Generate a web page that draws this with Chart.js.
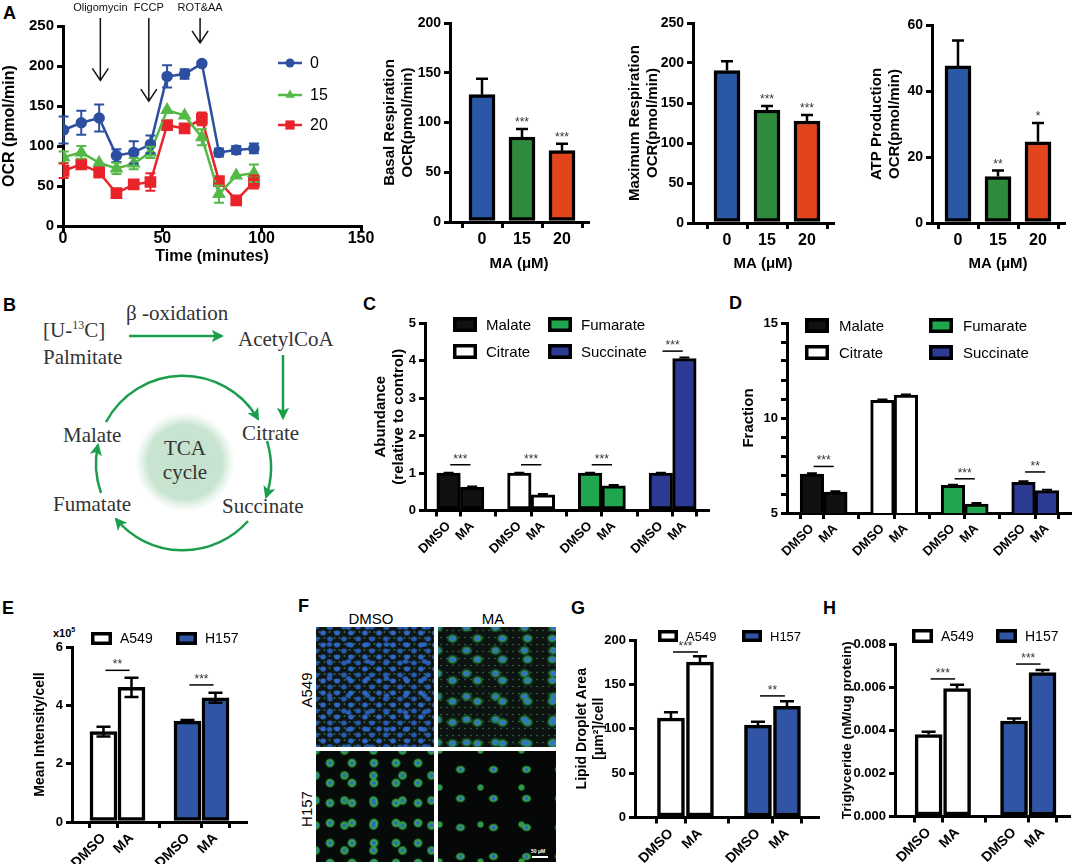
<!DOCTYPE html>
<html lang="en">
<head>
<meta charset="UTF-8">
<title>Mitochondrial respiration and lipid panels</title>
<script src="https://cdn.jsdelivr.net/npm/chart.js@4.4.1/dist/chart.umd.min.js"></script>
<style>
  html, body { margin: 0; padding: 0; background: #fff; }
  body { width: 1072px; height: 864px; position: relative; overflow: hidden;
         font-family: 'Liberation Sans', Arial, sans-serif; }
  canvas { position: absolute; }
  .tag { position: absolute; font-weight: bold; font-size: 18px; line-height: 1; }
  .lbl { position: absolute; font-size: 15px; line-height: 1; white-space: nowrap;
         transform: translate(-50%, -50%); }
  .rot { transform: translate(-50%, -50%) rotate(-90deg); }
  .cells { position: absolute; }
  #f1 { left: 316px; top: 627px; width: 118px; height: 120px; background-color: #0e1716;
        background-image:
          radial-gradient(3.8px 3.2px at 50% 50%, #2f68c8 50%, rgba(40,90,180,0) 100%),
          radial-gradient(3.8px 3.2px at 50% 50%, #295cb4 50%, rgba(40,90,180,0) 100%),
          radial-gradient(3.6px 3px at 50% 50%, #2a60bc 50%, rgba(40,90,180,0) 100%),
          radial-gradient(1.3px 1.3px at 50% 50%, rgba(80,170,110,.55) 50%, rgba(0,0,0,0) 100%);
        background-size: 14px 12px, 14px 12px, 19px 17px, 5px 6px;
        background-position: 0 0, 7px 6px, 4px 9px, 1px 2px; }
  #f2 { left: 438px; top: 627px; width: 118px; height: 120px; background-color: #0c1310;
        background-image:
          radial-gradient(3.2px 2.8px at 50% 50%, #3570d0 60%, rgba(0,0,0,0) 100%),
          radial-gradient(3.2px 2.8px at 50% 50%, #3570d0 60%, rgba(0,0,0,0) 100%),
          radial-gradient(6.5px 5.5px at 50% 50%, #35a552 40%, rgba(30,120,60,.45) 75%, rgba(0,0,0,0) 100%),
          radial-gradient(6.5px 5.5px at 50% 50%, #2f984a 40%, rgba(30,120,60,.45) 75%, rgba(0,0,0,0) 100%),
          radial-gradient(1.2px 1.2px at 50% 50%, rgba(70,160,100,.5) 50%, rgba(0,0,0,0) 100%);
        background-size: 25px 21px, 29px 23px, 25px 21px, 29px 23px, 6px 7px;
        background-position: 2px 1px, 14px 12px, 2px 1px, 14px 12px, 0 0; }
  #f3 { left: 316px; top: 751px; width: 118px; height: 111px; background-color: #060a08;
        background-image:
          radial-gradient(2.4px 2.4px at 50% 50%, #3068c4 60%, rgba(0,0,0,0) 100%),
          radial-gradient(2.4px 2.4px at 50% 50%, #3068c4 60%, rgba(0,0,0,0) 100%),
          radial-gradient(5.2px 5.2px at 50% 50%, #37a84a 60%, rgba(0,0,0,0) 100%),
          radial-gradient(5.2px 5.2px at 50% 50%, #31a045 60%, rgba(0,0,0,0) 100%);
        background-size: 22px 20px, 29px 25px, 22px 20px, 29px 25px;
        background-position: 3px 2px, 14px 12px, 3px 2px, 14px 12px; }
  #f4 { left: 438px; top: 751px; width: 118px; height: 111px; background-color: #050807;
        background-image:
          radial-gradient(2.4px 2.4px at 50% 50%, #3068c4 60%, rgba(0,0,0,0) 100%),
          radial-gradient(5.5px 4.5px at 50% 50%, #37a84a 55%, rgba(0,0,0,0) 100%),
          radial-gradient(4px 4px at 50% 50%, #2f9a45 55%, rgba(0,0,0,0) 100%);
        background-size: 33px 29px, 33px 29px, 41px 37px;
        background-position: 6px 4px, 6px 4px, 22px 18px; }
  #scalebar { position: absolute; left: 532px; top: 856px; width: 16px; height: 2px; background: #fff; }
  #scaletext { position: absolute; left: 531px; top: 848px; font-size: 5px; color: #fff; font-weight: bold; }
  #x10 { position: absolute; left: 53px; top: 626px; font-size: 11px; font-weight: bold; }
  #x10 sup { font-size: 7px; }
</style>
</head>
<body>
<div class="tag" style="left:3px;top:4px">A</div>
<div class="tag" style="left:3px;top:296px">B</div>
<div class="tag" style="left:363px;top:295px">C</div>
<div class="tag" style="left:729px;top:294px">D</div>
<div class="tag" style="left:2px;top:599px">E</div>
<div class="tag" style="left:298px;top:597px">F</div>
<div class="tag" style="left:571px;top:599px">G</div>
<div class="tag" style="left:823px;top:599px">H</div>

<!-- B: labelling scheme -->
<svg width="360" height="300" viewBox="0 280 360 300" style="position:absolute;left:0;top:280px">
  <defs>
    <marker id="head" viewBox="0 0 12 12" refX="10" refY="6" markerWidth="5" markerHeight="5" orient="auto">
      <path d="M0,0 L12,6 L0,12 L3,6 Z" fill="#1b9e4b"/>
    </marker>
    <radialGradient id="glow">
      <stop offset="0" stop-color="#c3e1cc"/>
      <stop offset="0.75" stop-color="#c9e5d2"/>
      <stop offset="1" stop-color="#d7ecde" stop-opacity="0"/>
    </radialGradient>
  </defs>
  <circle cx="185" cy="462" r="50" fill="url(#glow)"/>
  <g fill="#333" font-family="'Liberation Serif','DejaVu Serif',serif" font-size="21">
    <text x="43" y="337">[U-<tspan font-size="12" dy="-8">13</tspan><tspan dy="8">C]</tspan></text>
    <text x="43" y="364">Palmitate</text>
    <text x="126" y="320">β -oxidation</text>
    <text x="238" y="346">AcetylCoA</text>
    <text x="242" y="440">Citrate</text>
    <text x="63" y="442">Malate</text>
    <text x="185" y="455" text-anchor="middle">TCA</text>
    <text x="185" y="479" text-anchor="middle">cycle</text>
    <text x="53" y="511">Fumatate</text>
    <text x="222" y="513">Succinate</text>
  </g>
  <g stroke="#1b9e4b" stroke-width="2.5" fill="none" marker-end="url(#head)">
    <path d="M129,336 L222,336"/>
    <path d="M283,355 L283,418"/>
    <path d="M106,422 A87,87 0 0 1 258,419"/>
    <path d="M267,441 A90,90 0 0 1 266,497"/>
    <path d="M248,521 A87,87 0 0 1 116,519"/>
    <path d="M101,493 A87,87 0 0 1 98,445"/>
  </g>
</svg>

<!-- F: imaging -->
<div class="lbl" style="left:371px;top:618px">DMSO</div>
<div class="lbl" style="left:493px;top:618px">MA</div>
<div class="lbl rot" style="left:306px;top:690px">A549</div>
<div class="lbl rot" style="left:306px;top:809px">H157</div>
<div class="cells" id="f1"></div>
<div class="cells" id="f2"></div>
<div class="cells" id="f3"></div>
<div class="cells" id="f4"></div>
<div id="scalebar"></div>
<div id="scaletext">50 μM</div>
<div id="x10">x10<sup>5</sup></div>

<script>
const FONT = "'Liberation Sans', Arial, Helvetica, sans-serif";
Chart.defaults.font.family = FONT;
Chart.defaults.color = '#000';
Chart.defaults.animation = false;
Chart.defaults.plugins.legend.display = false;
Chart.defaults.plugins.tooltip.enabled = false;

// ---------- data ----------
// A: OCR trace
const minutes = [0.3, 9.2, 18.2, 26.9, 35.6, 44, 52.4, 61.2, 69.9, 78.5, 87.2, 96.1];
const ocr0 = [120, 129, 135, 88, 92, 102, 187, 190, 203, 92, 95, 97];
const ocr0Err = [17, 15, 17, 8, 14, 11, 14, 6, 2, 5, 5, 6];
const ocr15 = [86, 92, 79, 72, 78, 92, 145, 138, 111, 40, 63, 66];
const ocr15Err = [7, 8, 0, 7, 7, 7, 0, 0, 10, 11, 0, 11];
const ocr20 = [69, 77, 67, 41, 52, 55, 126, 122, 134, 56, 32, 55];
const ocr20Err = [9, 5, 6, 3, 3, 11, 5, 3, 8, 3, 3, 8];
const doseLabels = ['0', '15', '20'];
const injections = ['Oligomycin', 'FCCP', 'ROT&AA'];
const injectionTimes = [18.8, 43.2, 69];

// A: summary bars
const basal = [128, 85.4, 71.7];
const basalErr = [16, 8, 7];
const basalStars = ['', '***', '***'];
const maxResp = [190.6, 141.3, 127.5];
const maxRespErr = [11.5, 5, 7.5];
const maxRespStars = ['', '***', '***'];
const atp = [47.6, 14.1, 24.6];
const atpErr = [7.7, 1.8, 5.7];
const atpStars = ['', '**', '*'];

// C, D: metabolites
const metabolites = ['Malate', 'Citrate', 'Fumarate', 'Succinate'];
const treatments = ['DMSO', 'MA'];
const abundanceDMSO = [1, 1, 1, 1];
const abundanceMA = [0.62, 0.42, 0.66, 4.05];
const abundanceDMSOErr = [0.01, 0.01, 0.01, 0.01];
const abundanceMAErr = [0.02, 0.02, 0.02, 0.03];
const abundanceSig = ['***', '***', '***', '***'];
const fractionDMSO = [7.05, 10.93, 6.45, 6.62];
const fractionMA = [6.1, 11.2, 5.47, 6.18];
const fractionDMSOErr = [0.04, 0.04, 0.04, 0.05];
const fractionMAErr = [0.04, 0.04, 0.06, 0.05];
const fractionSig = ['***', '', '***', '**'];

// E, G, H: cell lines
const cellLines = ['A549', 'H157'];
const intensityDMSO = [3.1, 3.46];
const intensityMA = [4.62, 4.26];
const intensityDMSOErr = [0.17, 0.04];
const intensityMAErr = [0.33, 0.17];
const intensitySig = ['**', '***'];
const dropletDMSO = [112, 104];
const dropletMA = [175, 125.4];
const dropletDMSOErr = [6.5, 4];
const dropletMAErr = [6.6, 5.6];
const dropletSig = ['***', '**'];
const tgDMSO = [0.0038, 0.00443];
const tgMA = [0.00593, 0.00668];
const tgDMSOErr = [0.00013, 0.00011];
const tgMAErr = [0.00018, 0.00011];
const tgSig = ['***', '***'];

// ---------- styles ----------
const doseColors = ['#2b57a7', '#2e8b3d', '#e2441c'];
const traceColors = ['#2c4fa0', '#55b947', '#e8242a'];
const metaboliteColors = ['#111111', '#ffffff', '#1fa64f', '#2d3a94'];
const cellColors = ['#ffffff', '#2f55a4'];

// ---------- plugins ----------
const errorBars = {
  id: 'errorBars',
  afterDatasetsDraw(chart, args, o) {
    const {ctx, scales} = chart;
    chart.data.datasets.forEach(ds => {
      if (!ds.errors) return;
      ds.data.forEach((d, j) => {
        const e = ds.errors[j];
        const x = scales.x.getPixelForValue(d.x);
        const yTop = scales.y.getPixelForValue(d.y + (e || 0));
        ctx.save();
        if (e) {
          const yBot = scales.y.getPixelForValue(o.both ? d.y - e : d.y);
          ctx.strokeStyle = o.color || ds.borderColor;
          ctx.lineWidth = o.width;
          ctx.beginPath();
          ctx.moveTo(x, yTop); ctx.lineTo(x, yBot);
          ctx.moveTo(x - o.cap / 2, yTop); ctx.lineTo(x + o.cap / 2, yTop);
          if (o.both) { ctx.moveTo(x - o.cap / 2, yBot); ctx.lineTo(x + o.cap / 2, yBot); }
          ctx.stroke();
        }
        if (ds.stars && ds.stars[j]) {
          ctx.fillStyle = '#333';
          ctx.font = '12px ' + FONT;
          ctx.textAlign = 'center';
          ctx.textBaseline = 'alphabetic';
          ctx.fillText(ds.stars[j], x, yTop - 3);
        }
        ctx.restore();
      });
    });
  }
};

const sigBars = {
  id: 'sigBars',
  afterDatasetsDraw(chart, args, o) {
    const {ctx, scales: {x, y}} = chart;
    o.items.forEach(it => {
      if (!it.text) return;
      const x0 = x.getPixelForValue(it.at - 0.43);
      const x1 = x.getPixelForValue(it.at + 0.43);
      const yy = y.getPixelForValue(it.y);
      ctx.save();
      ctx.strokeStyle = '#000';
      ctx.lineWidth = 1.5;
      ctx.beginPath(); ctx.moveTo(x0, yy); ctx.lineTo(x1, yy); ctx.stroke();
      ctx.fillStyle = '#333';
      ctx.font = '12px ' + FONT;
      ctx.textAlign = 'center';
      ctx.textBaseline = 'alphabetic';
      ctx.fillText(it.text, (x0 + x1) / 2, yy - 2);
      ctx.restore();
    });
  }
};

const boxLegend = {
  id: 'boxLegend',
  afterDraw(chart, args, o) {
    const ctx = chart.ctx;
    chart.data.datasets.forEach((ds, i) => {
      const bx = o.spots[i][0] - o.origin[0], by = o.spots[i][1] - o.origin[1];
      ctx.save();
      ctx.fillStyle = ds.backgroundColor;
      ctx.fillRect(bx, by, o.w, o.h);
      ctx.strokeStyle = '#000';
      ctx.lineWidth = o.lw;
      ctx.strokeRect(bx + o.lw / 2, by + o.lw / 2, o.w - o.lw, o.h - o.lw);
      ctx.fillStyle = '#000';
      ctx.font = o.size + 'px ' + FONT;
      ctx.textAlign = 'left';
      ctx.textBaseline = 'middle';
      ctx.fillText(ds.label, bx + o.w + o.gap, by + o.h / 2 + 1);
      ctx.restore();
    });
  }
};

function marker(ctx, style, r, x, y) {
  ctx.beginPath();
  if (style === 'triangle') {
    ctx.moveTo(x, y - r); ctx.lineTo(x + r * 0.87, y + r / 2); ctx.lineTo(x - r * 0.87, y + r / 2); ctx.closePath();
  } else if (style === 'rect') {
    const s = r / Math.SQRT2;
    ctx.rect(x - s, y - s, 2 * s, 2 * s);
  } else {
    ctx.arc(x, y, r, 0, Math.PI * 2);
  }
  ctx.fill();
}

const lineLegend = {
  id: 'lineLegend',
  afterDraw(chart, args, o) {
    const ctx = chart.ctx;
    chart.data.datasets.forEach((ds, i) => {
      const y = o.rows[i];
      ctx.save();
      ctx.strokeStyle = ds.borderColor;
      ctx.fillStyle = ds.borderColor;
      ctx.lineWidth = 2.5;
      ctx.beginPath(); ctx.moveTo(o.x0, y); ctx.lineTo(o.x1, y); ctx.stroke();
      marker(ctx, ds.pointStyle, ds.pointRadius, (o.x0 + o.x1) / 2, y);
      ctx.fillStyle = '#000';
      ctx.font = o.size + 'px ' + FONT;
      ctx.textAlign = 'left';
      ctx.textBaseline = 'middle';
      ctx.fillText(ds.label, o.textX, y + 1);
      ctx.restore();
    });
  }
};

const injectionArrows = {
  id: 'injectionArrows',
  afterDraw(chart, args, o) {
    const {ctx, scales: {x, y}} = chart;
    injections.forEach((name, i) => {
      const px = x.getPixelForValue(injectionTimes[i]);
      const tip = y.getPixelForValue(o.tips[i]);
      ctx.save();
      ctx.strokeStyle = '#111';
      ctx.lineWidth = 1.5;
      ctx.beginPath();
      ctx.moveTo(px, o.top); ctx.lineTo(px, tip);
      ctx.moveTo(px - 8, tip - 12); ctx.lineTo(px, tip); ctx.lineTo(px + 8, tip - 12);
      ctx.stroke();
      ctx.fillStyle = '#111';
      ctx.font = '11px ' + FONT;
      ctx.textAlign = 'center';
      ctx.textBaseline = 'alphabetic';
      ctx.fillText(name, px, o.textY);
      ctx.restore();
    });
  }
};

// ---------- helpers ----------
function makeCanvas(box) {
  const c = document.createElement('canvas');
  c.width = box[2];
  c.height = box[3];
  c.style.left = box[0] + 'px';
  c.style.top = box[1] + 'px';
  document.body.appendChild(c);
  return c;
}
const grid = () => ({drawOnChartArea: false, color: '#000', lineWidth: 3, tickLength: 6});
const border = () => ({color: '#000', width: 3});
const axTitle = (text, size) => ({display: true, text, color: '#000', font: {size, weight: 'bold'}, padding: 0});

function barChart(c) {
  const yTicks = {stepSize: c.yStep, padding: 3, font: {size: c.ySize, weight: 'bold'}};
  if (c.yCb) yTicks.callback = c.yCb;
  return new Chart(makeCanvas(c.box), {
    type: 'bar',
    data: {datasets: c.datasets},
    options: {
      responsive: false,
      layout: {padding: c.pad},
      scales: {
        x: {
          type: 'linear', min: c.xMin, max: c.xMax, offset: false,
          afterBuildTicks: s => { s.ticks = c.positions.map(v => ({value: v})); },
          afterFit: s => { s.height = c.xh; },
          ticks: {autoSkip: false, minRotation: c.rot, maxRotation: c.rot, padding: 2,
                  font: {size: c.xSize, weight: 'bold'}, callback: (v, i) => c.tickLabels[i]},
          grid: grid(), border: border(),
          title: c.xTitle ? axTitle(c.xTitle, 15) : {display: false}
        },
        y: {
          min: c.yMin || 0, max: c.yMax,
          afterFit: s => { s.width = c.yw; },
          ticks: yTicks,
          grid: grid(), border: border(),
          title: axTitle(c.yTitle, c.yTitleSize)
        }
      },
      plugins: c.plug
    },
    plugins: c.plugins
  });
}

const barShape = thick => ({borderColor: '#000', borderSkipped: false, grouped: false,
                            barPercentage: 1, categoryPercentage: 1, maxBarThickness: thick});

function doseSet(values, errs, stars) {
  return [Object.assign({
    label: 'MA (μM)',
    data: values.map((v, i) => ({x: i, y: v})),
    errors: errs, stars,
    backgroundColor: doseColors, borderWidth: 3.5
  }, barShape(26))];
}

function pairSets(names, dmso, ma, errD, errM, colors, thick, bw) {
  return names.map((name, g) => Object.assign({
    label: name,
    data: [dmso[g], ma[g]].map((v, c) => ({x: g * 3 + c, y: v})),
    errors: [errD[g], errM[g]],
    backgroundColor: colors[g], borderWidth: bw
  }, barShape(thick)));
}
const pairPositions = n => Array.from({length: n * 2}, (_, k) => Math.floor(k / 2) * 3 + (k % 2));
const pairLabels = n => Array.from({length: n * 2}, (_, k) => treatments[k % 2]);
const sigItems = (sig, levels) => sig.map((t, g) => ({at: g * 3 + 0.5, y: levels[g], text: t}));

// ---------- A: OCR trace ----------
function traceSet(label, vals, errs, color, style, r) {
  return {
    label, data: minutes.map((t, i) => ({x: t, y: vals[i]})), errors: errs,
    borderColor: color, backgroundColor: color, pointBackgroundColor: color, pointBorderColor: color,
    pointStyle: style, pointRadius: r, borderWidth: 2.5, tension: 0
  };
}
new Chart(makeCanvas([0, 0, 385, 266]), {
  type: 'line',
  data: {datasets: [
    traceSet(doseLabels[0], ocr0, ocr0Err, traceColors[0], 'circle', 4.5),
    traceSet(doseLabels[1], ocr15, ocr15Err, traceColors[1], 'triangle', 5.5),
    traceSet(doseLabels[2], ocr20, ocr20Err, traceColors[2], 'rect', 6.5)
  ]},
  options: {
    responsive: false,
    layout: {padding: {left: 0, top: 26, right: 24, bottom: 0}},
    scales: {
      x: {type: 'linear', min: 0, max: 150, afterFit: s => { s.height = 40; },
          ticks: {stepSize: 50, padding: -3, font: {size: 16, weight: 'bold'}},
          grid: grid(), border: border(), title: axTitle('Time (minutes)', 16)},
      y: {min: 0, max: 250, afterFit: s => { s.width = 63; },
          ticks: {stepSize: 50, padding: 3, font: {size: 15, weight: 'bold'}},
          grid: grid(), border: border(), title: axTitle('OCR (pmol/min)', 16)}
    },
    plugins: {
      errorBars: {both: true, cap: 10, width: 2},
      lineLegend: {x0: 278, x1: 302, textX: 310, rows: [63, 95, 125], size: 16},
      injectionArrows: {top: 18, textY: 11, tips: [182, 156, 229]}
    }
  },
  plugins: [errorBars, lineLegend, injectionArrows]
});

// ---------- A: summary bars ----------
const doseBarBase = {positions: [0, 1, 2], tickLabels: doseLabels, rot: 0, xSize: 16, ySize: 14,
                     xTitle: 'MA (μM)', yTitleSize: 15,
                     plug: {errorBars: {both: false, cap: 12, width: 2.5, color: '#000'}}, plugins: [errorBars]};
barChart(Object.assign({}, doseBarBase, {
  box: [375, 8, 225, 267], pad: {left: 6, top: 15, right: 12, bottom: 2}, yw: 69, xh: 51,
  xMin: -0.8, xMax: 2.65, yMax: 200, yStep: 50,
  yTitle: ['Basal Respiration', 'OCR(pmol/min)'],
  datasets: doseSet(basal, basalErr, basalStars)
}));
barChart(Object.assign({}, doseBarBase, {
  box: [620, 8, 225, 267], pad: {left: 6, top: 15, right: 12, bottom: 2}, yw: 67, xh: 50,
  xMin: -0.85, xMax: 2.65, yMax: 250, yStep: 50,
  yTitle: ['Maximum Respiration', 'OCR(pmol/min)'],
  datasets: doseSet(maxResp, maxRespErr, maxRespStars)
}));
barChart(Object.assign({}, doseBarBase, {
  box: [862, 10, 210, 265], pad: {left: 6, top: 15, right: 8, bottom: 2}, yw: 64, xh: 50,
  xMin: -0.65, xMax: 2.65, yMax: 60, yStep: 20,
  yTitle: ['ATP Production', 'OCR(pmol/min)'],
  datasets: doseSet(atp, atpErr, atpStars)
}));

// ---------- C: abundance ----------
barChart({
  box: [365, 300, 347, 275], pad: {left: 7, top: 23, right: 4, bottom: 0}, yw: 53, xh: 64.5,
  xMin: -1, xMax: 11, positions: pairPositions(4), tickLabels: pairLabels(4), rot: 45, xSize: 13,
  yMax: 5, yStep: 1, ySize: 13, yTitle: ['Abundance', '(relative to control)'], yTitleSize: 15,
  datasets: pairSets(metabolites, abundanceDMSO, abundanceMA, abundanceDMSOErr, abundanceMAErr, metaboliteColors, 23.5, 3),
  plug: {
    errorBars: {both: false, cap: 10, width: 2, color: '#000'},
    sigBars: {items: sigItems(abundanceSig, [1.22, 1.22, 1.22, 4.25])},
    boxLegend: {origin: [365, 300], spots: [[453, 317], [453, 344], [548, 317], [548, 344]],
                w: 24, h: 15, lw: 3.5, gap: 9, size: 15}
  },
  plugins: [errorBars, sigBars, boxLegend]
});

// ---------- D: fraction ----------
barChart({
  box: [735, 300, 337, 275], pad: {left: 5, top: 23, right: 2, bottom: 0}, yw: 47, xh: 62,
  xMin: -1.06, xMax: 10.98, positions: pairPositions(4), tickLabels: pairLabels(4), rot: 45, xSize: 13,
  yMin: 5, yMax: 15, yStep: 1, ySize: 13, yCb: v => (v % 5 === 0 ? v : ''),
  yTitle: 'Fraction', yTitleSize: 15,
  datasets: pairSets(metabolites, fractionDMSO, fractionMA, fractionDMSOErr, fractionMAErr, metaboliteColors, 23.5, 3),
  plug: {
    errorBars: {both: false, cap: 10, width: 2, color: '#000'},
    sigBars: {items: sigItems(fractionSig, [7.45, 0, 6.8, 7.16])},
    boxLegend: {origin: [735, 300], spots: [[805, 318], [805, 345], [929, 318], [929, 345]],
                w: 24, h: 15, lw: 3.5, gap: 10, size: 15}
  },
  plugins: [errorBars, sigBars, boxLegend]
});

// ---------- E: mean intensity ----------
barChart({
  box: [25, 615, 235, 249], pad: {left: 7, top: 32, right: 14, bottom: 0}, yw: 40, xh: 42,
  xMin: -1.125, xMax: 5.09, positions: pairPositions(2), tickLabels: pairLabels(2), rot: 45, xSize: 14,
  yMax: 6, yStep: 2, ySize: 13, yTitle: 'Mean Intensity/cell', yTitleSize: 14,
  datasets: pairSets(cellLines, intensityDMSO, intensityMA, intensityDMSOErr, intensityMAErr, cellColors, 27, 3.5),
  plug: {
    errorBars: {both: true, cap: 14, width: 2.5, color: '#000'},
    sigBars: {items: sigItems(intensitySig, [5.2, 4.7])},
    boxLegend: {origin: [25, 615], spots: [[91, 632], [176, 632]], w: 21, h: 13, lw: 3.5, gap: 8, size: 14}
  },
  plugins: [errorBars, sigBars, boxLegend]
});

// ---------- G: lipid droplet area ----------
barChart({
  box: [565, 615, 265, 249], pad: {left: 8.6, top: 25, right: 12, bottom: 0}, yw: 61.4, xh: 46.5,
  xMin: -1.24, xMax: 5.07, positions: pairPositions(2), tickLabels: pairLabels(2), rot: 45, xSize: 14,
  yMax: 200, yStep: 50, ySize: 13, yTitle: ['Lipid Droplet Area', '[μm²]/cell'], yTitleSize: 14,
  datasets: pairSets(cellLines, dropletDMSO, dropletMA, dropletDMSOErr, dropletMAErr, cellColors, 27, 3.5),
  plug: {
    errorBars: {both: false, cap: 14, width: 2.5, color: '#000'},
    sigBars: {items: sigItems(dropletSig, [186.5, 137])},
    boxLegend: {origin: [565, 615], spots: [[658, 630], [742, 630]], w: 20, h: 12, lw: 3.5, gap: 8, size: 13}
  },
  plugins: [errorBars, sigBars, boxLegend]
});

// ---------- H: triglyceride ----------
barChart({
  box: [832, 615, 240, 249], pad: {left: 7, top: 29, right: 3, bottom: 0}, yw: 56, xh: 47.5,
  xMin: -1.18, xMax: 4.93, positions: pairPositions(2), tickLabels: pairLabels(2), rot: 45, xSize: 14,
  yMax: 0.008, yStep: 0.002, ySize: 13, yCb: v => v.toFixed(3),
  yTitle: 'Triglyceride (nM/ug protein)', yTitleSize: 13.5,
  datasets: pairSets(cellLines, tgDMSO, tgMA, tgDMSOErr, tgMAErr, cellColors, 27, 3.5),
  plug: {
    errorBars: {both: false, cap: 14, width: 2.5, color: '#000'},
    sigBars: {items: sigItems(tgSig, [0.00638, 0.00707])},
    boxLegend: {origin: [832, 615], spots: [[912, 629], [996, 629]], w: 21, h: 14, lw: 3.5, gap: 8, size: 14}
  },
  plugins: [errorBars, sigBars, boxLegend]
});
</script>
</body>
</html>
